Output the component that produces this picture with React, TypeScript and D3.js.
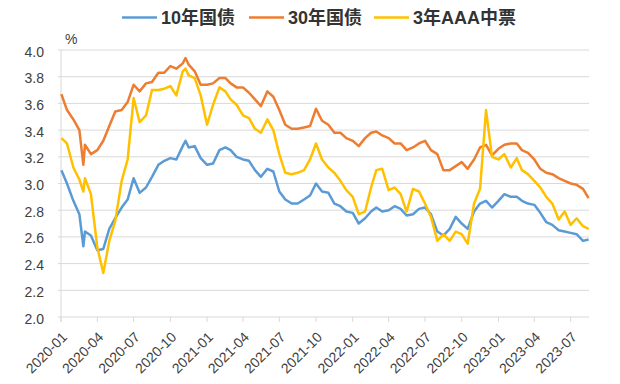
import React from 'react';
import * as d3 from 'd3';

// sample dates (every half month)
const dates = [
  '2020-01-02', '2020-01-16', '2020-02-01', '2020-02-16', '2020-02-26', '2020-03-01', '2020-03-16',
  '2020-04-01', '2020-04-16', '2020-05-01', '2020-05-16', '2020-06-01', '2020-06-16', '2020-07-01',
  '2020-07-16', '2020-08-01', '2020-08-16', '2020-09-01', '2020-09-16', '2020-10-01', '2020-10-16',
  '2020-11-01', '2020-11-08', '2020-11-16', '2020-12-01', '2020-12-16',
  '2021-01-01', '2021-01-16', '2021-02-01', '2021-02-16', '2021-03-01', '2021-03-16', '2021-04-01',
  '2021-04-16', '2021-05-01', '2021-05-16', '2021-06-01', '2021-06-16', '2021-07-01', '2021-07-16',
  '2021-08-01', '2021-08-16', '2021-09-01', '2021-09-16', '2021-10-01', '2021-10-16', '2021-11-01',
  '2021-11-16', '2021-12-01', '2021-12-16',
  '2022-01-01', '2022-01-16', '2022-02-01', '2022-02-16', '2022-03-01', '2022-03-16', '2022-04-01',
  '2022-04-16', '2022-05-01', '2022-05-16', '2022-06-01', '2022-06-16', '2022-07-01', '2022-07-16',
  '2022-08-01', '2022-08-16', '2022-09-01', '2022-09-16', '2022-10-01', '2022-10-16', '2022-11-01',
  '2022-11-16', '2022-12-01', '2022-12-16',
  '2023-01-01', '2023-01-16', '2023-02-01', '2023-02-16', '2023-03-01', '2023-03-16', '2023-04-01',
  '2023-04-16', '2023-05-01', '2023-05-16', '2023-06-01', '2023-06-16', '2023-07-01', '2023-07-16',
  '2023-08-01', '2023-08-15',
];

const cgb10 = [
  3.10, 3.00, 2.87, 2.77, 2.53, 2.64, 2.61, 2.50, 2.51, 2.66, 2.74, 2.82, 2.88, 3.04, 2.93, 2.97,
  3.05, 3.14, 3.17, 3.19, 3.18, 3.28, 3.32, 3.27, 3.28, 3.19,
  3.14, 3.15, 3.25, 3.27, 3.25, 3.20, 3.18, 3.17, 3.10, 3.05, 3.11, 3.09, 2.94, 2.88, 2.85, 2.85,
  2.88, 2.91, 3.00, 2.94, 2.93, 2.85, 2.83, 2.79,
  2.78, 2.70, 2.74, 2.79, 2.82, 2.79, 2.80, 2.83, 2.81, 2.76, 2.77, 2.81, 2.82, 2.77, 2.64, 2.61,
  2.66, 2.75, 2.70, 2.66, 2.79, 2.85, 2.87, 2.82,
  2.87, 2.92, 2.90, 2.90, 2.87, 2.85, 2.84, 2.78, 2.71, 2.69, 2.65, 2.64, 2.63, 2.62, 2.57, 2.58,
];

const cgb30 = [
  3.67, 3.55, 3.48, 3.40, 3.14, 3.29, 3.22, 3.25, 3.32, 3.43, 3.54, 3.55, 3.61, 3.74, 3.69, 3.75,
  3.76, 3.83, 3.83, 3.88, 3.86, 3.90, 3.94, 3.89, 3.84, 3.74,
  3.74, 3.75, 3.79, 3.79, 3.75, 3.72, 3.72, 3.68, 3.63, 3.58, 3.69, 3.65, 3.55, 3.44, 3.41, 3.41,
  3.42, 3.43, 3.56, 3.47, 3.44, 3.38, 3.38, 3.34,
  3.32, 3.28, 3.34, 3.38, 3.39, 3.36, 3.34, 3.30, 3.30, 3.25, 3.27, 3.30, 3.32, 3.25, 3.22, 3.10,
  3.10, 3.13, 3.16, 3.11, 3.18, 3.27, 3.29, 3.21,
  3.26, 3.29, 3.30, 3.30, 3.25, 3.23, 3.18, 3.11, 3.08, 3.07, 3.04, 3.02, 3.00, 2.99, 2.96, 2.89,
];

const mtn3 = [
  3.34, 3.30, 3.12, 3.03, 2.94, 3.04, 2.92, 2.52, 2.33, 2.57, 2.72, 3.02, 3.18, 3.64, 3.46, 3.51,
  3.70, 3.70, 3.71, 3.73, 3.66, 3.84, 3.86, 3.81, 3.79, 3.66,
  3.44, 3.59, 3.72, 3.69, 3.63, 3.59, 3.51, 3.49, 3.41, 3.38, 3.48, 3.40, 3.22, 3.08, 3.07, 3.08,
  3.10, 3.18, 3.30, 3.18, 3.12, 3.08, 3.02, 2.95,
  2.90, 2.77, 2.79, 2.97, 3.10, 3.11, 2.95, 2.97, 2.92, 2.79, 2.96, 2.94, 2.85, 2.75, 2.57, 2.62,
  2.57, 2.64, 2.62, 2.55, 2.85, 2.96, 3.55, 3.20,
  3.18, 3.22, 3.12, 3.19, 3.10, 3.07, 3.02, 2.97, 2.90, 2.85, 2.73, 2.79, 2.69, 2.74, 2.68, 2.66,
];

const seriesNames = ['10年国债', '30年国债', '3年AAA中票'];
const seriesColors = ['#5B9BD5', '#ED7D31', '#FFC000'];

const yTicks = [2.0, 2.2, 2.4, 2.6, 2.8, 3.0, 3.2, 3.4, 3.6, 3.8, 4.0];
const xTickLabels = [
  '2020-01', '2020-04', '2020-07', '2020-10', '2021-01', '2021-04', '2021-07', '2021-10',
  '2022-01', '2022-04', '2022-07', '2022-10', '2023-01', '2023-04', '2023-07',
];

const W = 620;
const H = 384;
const margin = { top: 50, right: 31, bottom: 67, left: 61 };
const font = '"Liberation Sans", Arial, "Noto Sans CJK SC", sans-serif';

export default function App() {
  const parse = d3.timeParse('%Y-%m-%d');
  const parseMonth = d3.timeParse('%Y-%m');
  const x = d3
    .scaleTime()
    .domain([new Date(2020, 0, 1), new Date(2023, 7, 16)])
    .range([margin.left, W - margin.right]);
  const y = d3.scaleLinear().domain([2, 4]).range([H - margin.bottom, margin.top]);

  const allSeries = [cgb10, cgb30, mtn3].map((vals) =>
    vals.map((v, i) => ({ date: parse(dates[i]) as Date, value: v }))
  );
  const line = d3
    .line<{ date: Date; value: number }>()
    .x((d) => x(d.date))
    .y((d) => y(d.value));

  const legendX = [122, 249, 374];

  return (
    <svg
      width={W}
      height={H}
      style={{ position: 'absolute', left: 0, top: 0, background: '#fff' }}
      fontFamily={font}
    >
      {/* legend */}
      {seriesNames.map((name, i) => (
        <g key={name} transform={`translate(${legendX[i]},17.5)`}>
          <line x1={0} x2={35} y1={0} y2={0} stroke={seriesColors[i]} strokeWidth={2.5} />
          <text x={39} y={6.5} fontSize={18} fontWeight="bold" fill="#333">
            {name}
          </text>
        </g>
      ))}

      <text x={65} y={44} fontSize={14} fill="#404040">
        %
      </text>

      {/* grid + y labels */}
      {yTicks.map((t) => (
        <g key={t}>
          <line
            x1={margin.left - 3}
            x2={W - margin.right}
            y1={y(t)}
            y2={y(t)}
            stroke="#d9d9d9"
            strokeWidth={1}
          />
          <text x={44} y={y(t) + 1.5} fontSize={14} fill="#404040" textAnchor="end" dominantBaseline="central">
            {t.toFixed(1)}
          </text>
        </g>
      ))}
      <line x1={margin.left} x2={margin.left} y1={margin.top} y2={H - margin.bottom + 5} stroke="#d9d9d9" />

      {/* x ticks and labels */}
      {xTickLabels.map((lbl) => {
        const xt = x(parseMonth(lbl) as Date);
        return (
          <g key={lbl}>
            <line x1={xt} x2={xt} y1={H - margin.bottom} y2={H - margin.bottom + 5} stroke="#d9d9d9" />
            <text
              transform={`translate(${xt + 3.5},${H - margin.bottom + 17.5}) rotate(-45)`}
              textAnchor="end"
              dominantBaseline="central"
              fontSize={14}
              fill="#404040"
            >
              {lbl}
            </text>
          </g>
        );
      })}

      {/* series */}
      {allSeries.map((s, i) => (
        <path
          key={seriesNames[i]}
          d={line(s) || ''}
          fill="none"
          stroke={seriesColors[i]}
          strokeWidth={2.5}
          strokeLinejoin="round"
        />
      ))}
    </svg>
  );
}
